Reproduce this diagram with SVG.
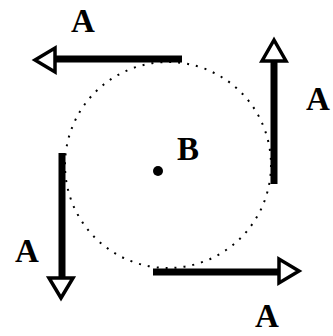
<svg xmlns="http://www.w3.org/2000/svg" width="333" height="336" viewBox="0 0 333 336">
<style>
.lbl{font-family:"Liberation Serif","Times New Roman",serif;font-weight:bold;font-size:33px;fill:#000;text-anchor:middle}
.shaft{stroke:#000;stroke-width:7;fill:none}
.head{fill:#fff;stroke:#000;stroke-width:3.5;stroke-linejoin:miter}
</style>
<rect width="333" height="336" fill="#fff"/>
<g id="circle">
<circle cx="168" cy="165" r="103" fill="none" stroke="#000" stroke-width="2" stroke-dasharray="2,7"/>
</g>
<g id="B">
<circle cx="158" cy="171" r="5" fill="#000"/>
<text class="lbl" x="188" y="160">B</text>
</g>
<g id="connectors">
<g id="arrow-top">
<line class="shaft" x1="182" y1="59" x2="54" y2="59"/>
<polygon class="head" points="35,60 55,48 55,72"/>
</g>
<g id="arrow-right">
<line class="shaft" x1="274" y1="184" x2="274" y2="61"/>
<polygon class="head" points="274,40 262,61 286,61"/>
</g>
<g id="arrow-bottom">
<line class="shaft" x1="153" y1="272" x2="279" y2="272"/>
<polygon class="head" points="299,271 279,259 279,283"/>
</g>
<g id="arrow-left">
<line class="shaft" x1="62" y1="153" x2="62" y2="278"/>
<polygon class="head" points="61,298 49,278 73,278"/>
</g>
</g>
<g id="labels">
<text class="lbl" x="83" y="32">A</text>
<text class="lbl" x="318" y="110">A</text>
<text class="lbl" x="267" y="327">A</text>
<text class="lbl" x="27" y="262">A</text>
</g>
</svg>
